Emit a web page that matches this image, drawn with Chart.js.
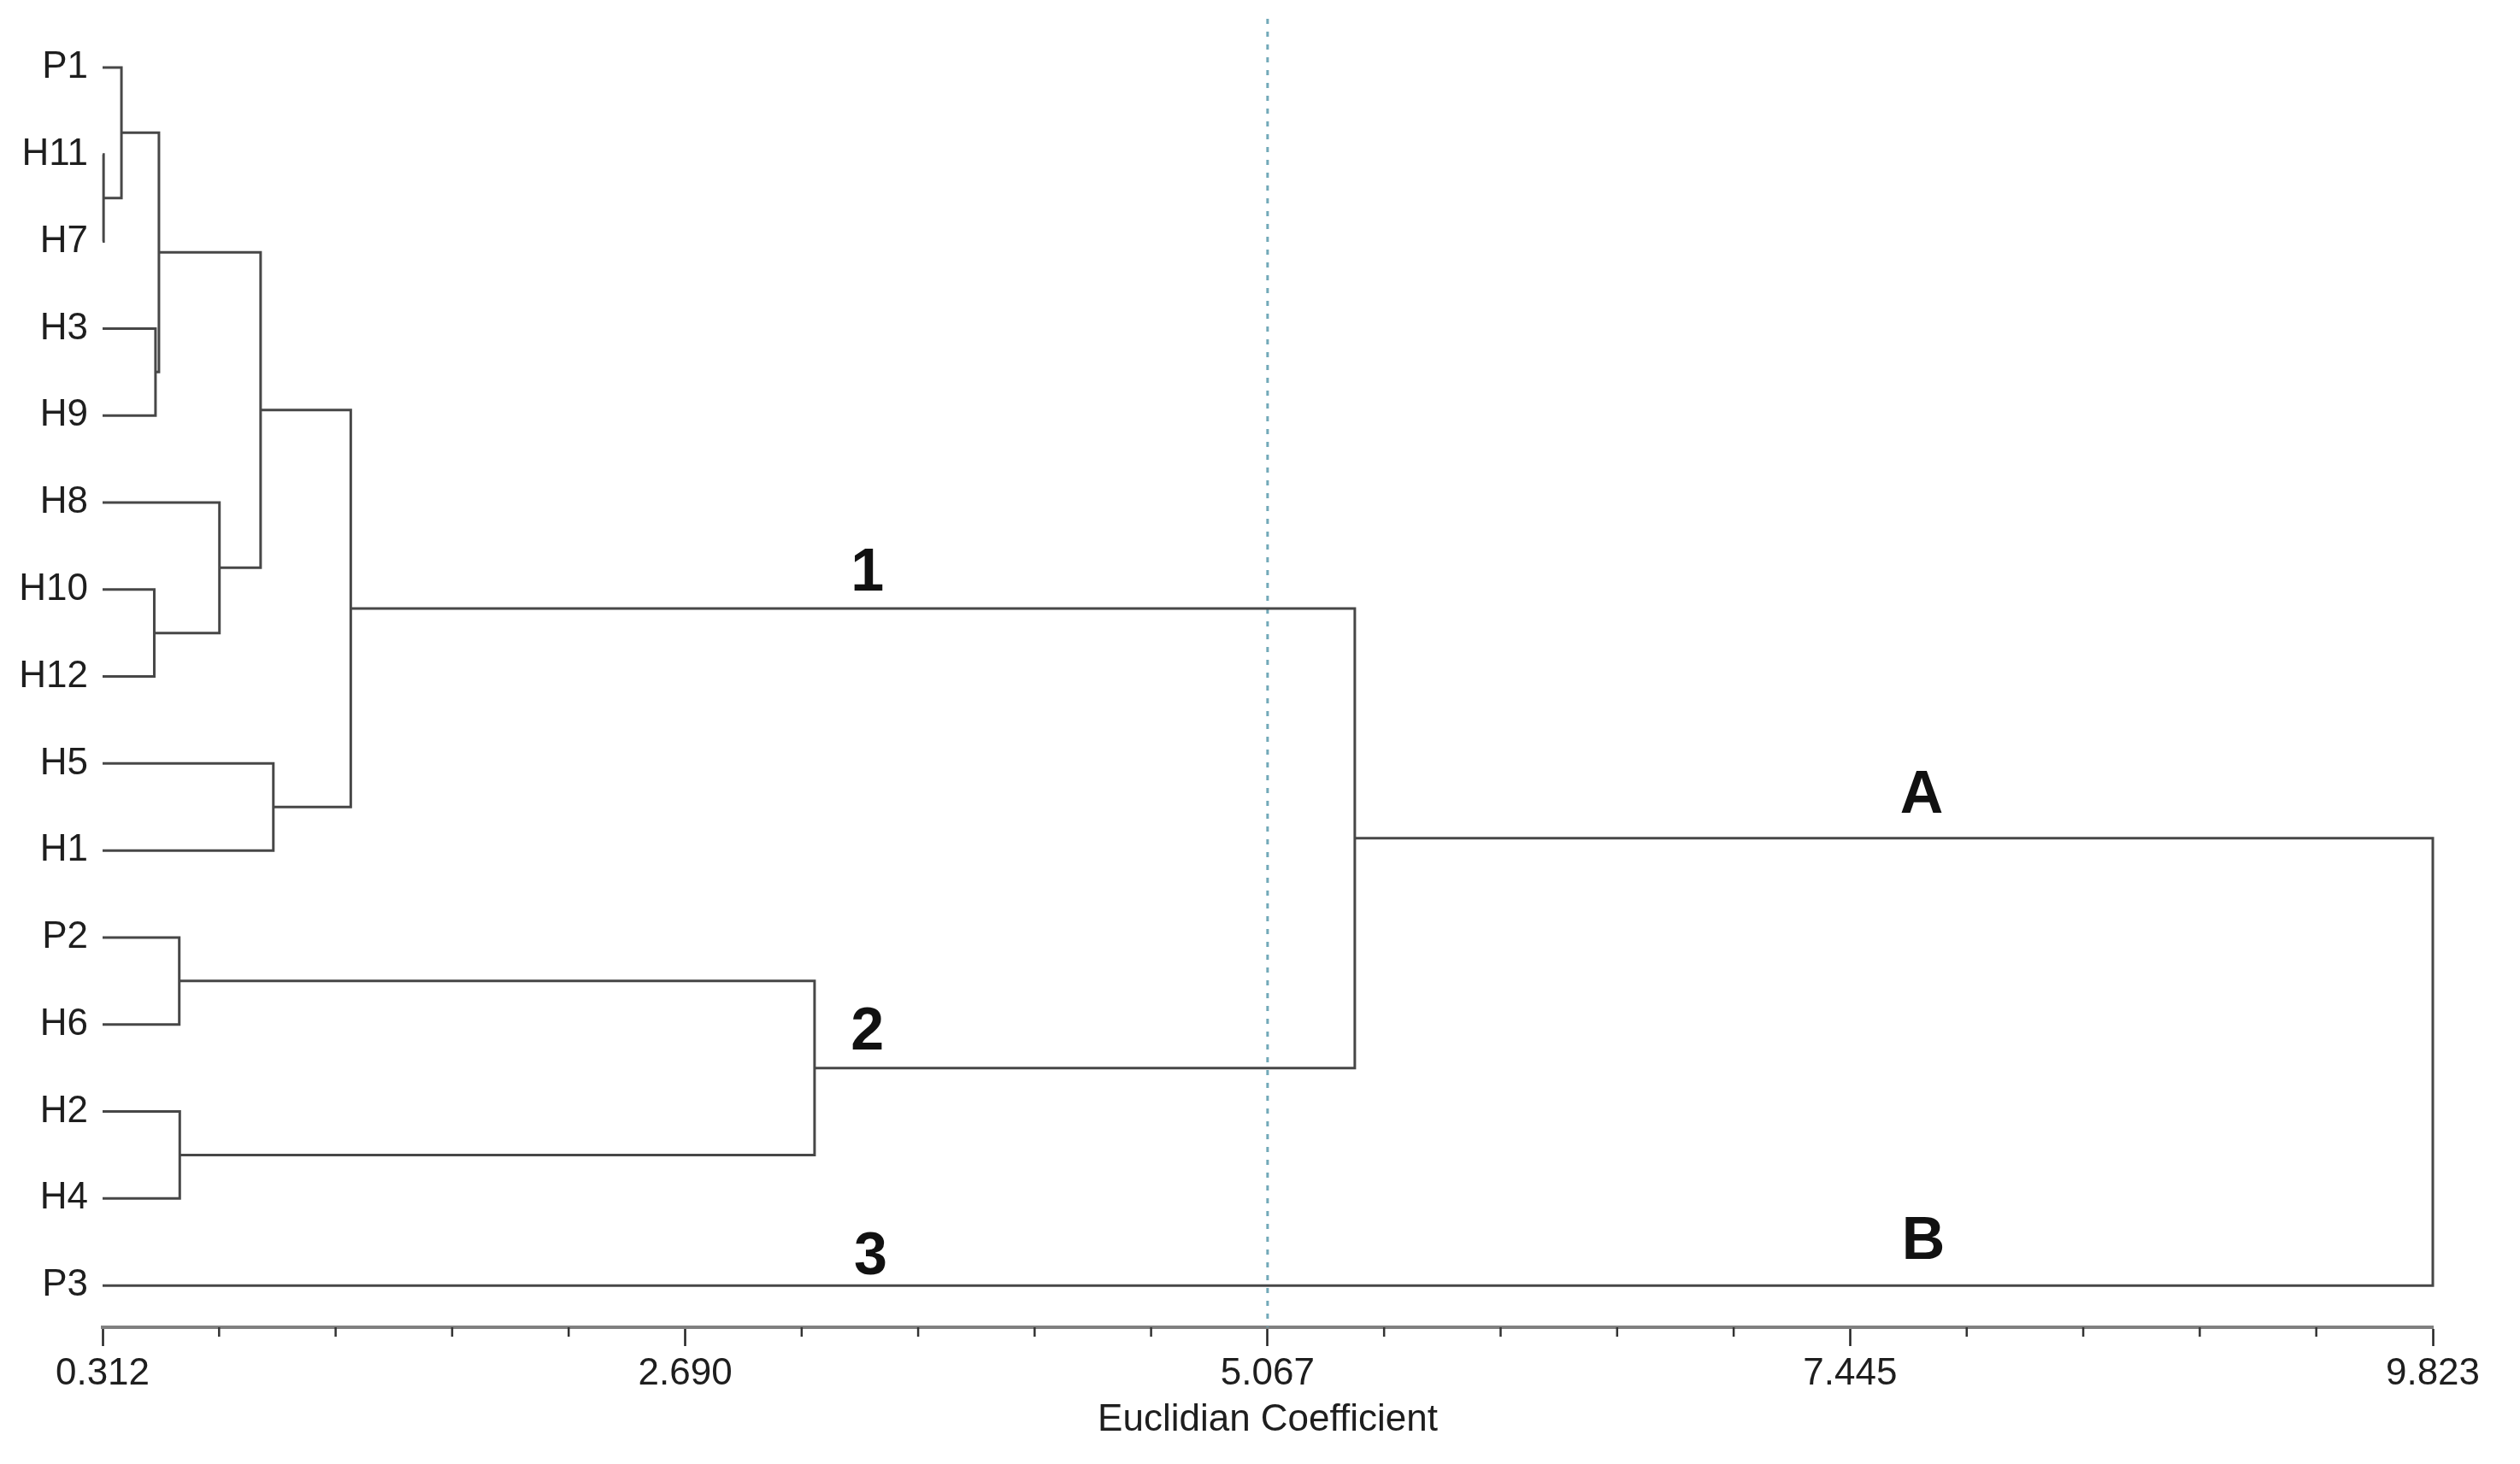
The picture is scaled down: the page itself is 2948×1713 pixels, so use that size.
<!DOCTYPE html>
<html>
<head>
<meta charset="utf-8">
<script src="https://cdn.jsdelivr.net/npm/chart.js@4.4.0/dist/chart.umd.min.js"></script>
<style>
  html, body { margin: 0; padding: 0; background: #fff; }
  #wrap { width: 2948px; height: 1713px; position: relative; }
</style>
</head>
<body>
<div id="wrap"><canvas id="dendro"></canvas></div>
<script>
// leaves, top to bottom
const leafLabels = ['P1', 'H11', 'H7', 'H3', 'H9', 'H8', 'H10', 'H12', 'H5', 'H1', 'P2', 'H6', 'H2', 'H4', 'P3'];

// merges (new node = 15, 16, ...), children given by node index
const mergeLeft   = [1, 0, 3, 16, 6, 5, 18, 8, 21, 10, 12, 24, 23, 27];
const mergeRight  = [2, 15, 4, 17, 7, 19, 20, 9, 22, 11, 13, 25, 26, 14];
const mergeHeight = [0.316, 0.389, 0.528, 0.542, 0.523, 0.789, 0.957, 1.009, 1.325, 0.625, 0.627, 3.218, 5.423, 9.823];

// x axis
const axisMin = 0.312;
const axisMax = 9.823;
const tickValues = [0.312, 2.690, 5.067, 7.445, 9.823];
const tickLabels = ['0.312', '2.690', '5.067', '7.445', '9.823'];
const minorPerMajor = 5;

// cut line
const cutValue = 5.067;

// group letters
const groupNames = ['1', '2', '3', 'A', 'B'];
const groupX = [3.434, 3.434, 3.447, 7.737, 7.744];
const groupY = [5.82, 11.1, 13.68, 8.38, 13.5];

const FONT = '"Liberation Sans", Arial, sans-serif';

// build the U links
const nodeX = leafLabels.map(() => axisMin);
const nodeY = leafLabels.map((_, i) => i);
const datasets = [];
mergeLeft.forEach((a, k) => {
    const b = mergeRight[k];
    const h = mergeHeight[k];
    datasets.push({
        data: [
            { x: nodeX[a], y: nodeY[a] },
            { x: h, y: nodeY[a] },
            { x: h, y: nodeY[b] },
            { x: nodeX[b], y: nodeY[b] },
        ],
        showLine: true,
        borderColor: '#474747',
        borderWidth: 3,
        borderJoinStyle: 'miter',
        pointRadius: 0,
        tension: 0,
        fill: false,
        clip: false,
    });
    nodeX.push(h);
    nodeY.push((nodeY[a] + nodeY[b]) / 2);
});

// minor ticks, cut line, group letters
const extras = {
    id: 'extras',
    beforeDatasetsDraw(chart) {
        const { ctx, chartArea, scales: { x } } = chart;
        const px = x.getPixelForValue(cutValue);
        ctx.save();
        ctx.strokeStyle = '#72a9b9';
        ctx.lineWidth = 3;
        ctx.setLineDash([6, 9]);
        ctx.beginPath();
        ctx.moveTo(px, chartArea.top);
        ctx.lineTo(px, chartArea.bottom);
        ctx.stroke();
        ctx.restore();
    },
    afterDraw(chart) {
        const { ctx, chartArea, scales: { x, y } } = chart;
        ctx.save();
        ctx.strokeStyle = '#333';
        ctx.lineWidth = 2.5;
        for (let i = 0; i < tickValues.length - 1; i++) {
            const step = (tickValues[i + 1] - tickValues[i]) / minorPerMajor;
            for (let j = 1; j < minorPerMajor; j++) {
                const px = x.getPixelForValue(tickValues[i] + j * step);
                ctx.beginPath();
                ctx.moveTo(px, chartArea.bottom);
                ctx.lineTo(px, chartArea.bottom + 11);
                ctx.stroke();
            }
        }
        ctx.fillStyle = '#111';
        ctx.font = 'bold 70px ' + FONT;
        ctx.textAlign = 'center';
        ctx.textBaseline = 'middle';
        groupNames.forEach((t, i) => {
            ctx.fillText(t, x.getPixelForValue(groupX[i]), y.getPixelForValue(groupY[i]));
        });
        ctx.restore();
    }
};

new Chart(document.getElementById('dendro'), {
    type: 'scatter',
    data: { datasets: datasets },
    options: {
        responsive: true,
        maintainAspectRatio: false,
        animation: false,
        layout: { padding: { top: 22, right: 102, bottom: 0, left: 0 } },
        plugins: {
            legend: { display: false },
            tooltip: { enabled: false },
        },
        scales: {
            x: {
                type: 'linear',
                min: axisMin,
                max: axisMax,
                afterBuildTicks: (scale) => {
                    scale.ticks = tickValues.map(v => ({ value: v }));
                },
                afterFit: (scale) => { scale.height = 160; },
                ticks: {
                    autoSkip: false,
                    maxRotation: 0,
                    padding: 6,
                    color: '#1e1e1e',
                    font: { family: FONT, size: 44 },
                    callback: (v, i) => tickLabels[i],
                },
                grid: {
                    drawOnChartArea: false,
                    drawTicks: true,
                    tickLength: 22,
                    tickColor: '#222',
                    tickWidth: 2.5,
                },
                border: { display: true, color: '#808080', width: 4 },
                title: {
                    display: true,
                    text: 'Euclidian Coefficient',
                    color: '#1e1e1e',
                    font: { family: FONT, size: 44 },
                    padding: { top: 0, bottom: 25 },
                },
            },
            y: {
                type: 'linear',
                reverse: true,
                min: -0.56,
                max: 14.48,
                afterBuildTicks: (scale) => {
                    scale.ticks = leafLabels.map((_, i) => ({ value: i }));
                },
                afterFit: (scale) => {
                    scale.width = 120;
                    scale.paddingTop = 0;
                    scale.paddingBottom = 0;
                },
                ticks: {
                    autoSkip: false,
                    padding: 17,
                    color: '#1e1e1e',
                    font: { family: FONT, size: 44 },
                    callback: (v, i) => leafLabels[i],
                },
                grid: { display: false, drawTicks: false },
                border: { display: false },
            },
        },
    },
    plugins: [extras],
});
</script>
</body>
</html>
